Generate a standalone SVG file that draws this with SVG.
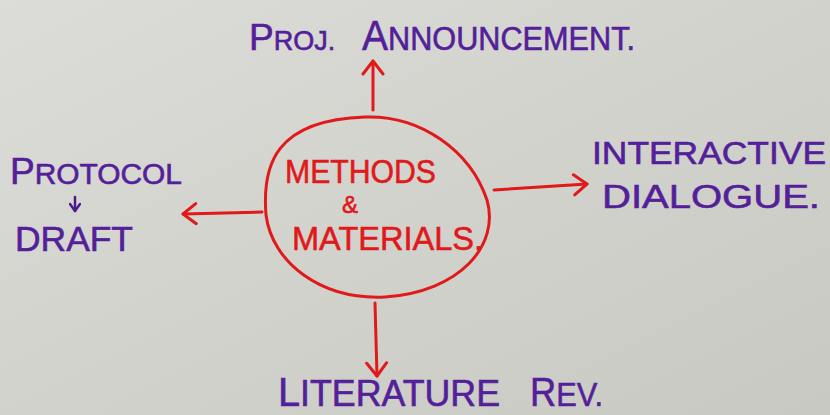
<svg xmlns="http://www.w3.org/2000/svg" width="830" height="415" viewBox="0 0 830 415">
  <defs>
    <linearGradient id="paper" x1="0" y1="0" x2="1" y2="1">
      <stop offset="0" stop-color="#dcdcd8"/>
      <stop offset="1" stop-color="#c9c9c3"/>
    </linearGradient>
    <marker id="redHead" viewBox="0 0 20 24" refX="18" refY="12" markerWidth="20" markerHeight="24" markerUnits="userSpaceOnUse" orient="auto">
      <path d="M5,2 L18,12 L5,22" fill="none" stroke="#e0191b" stroke-width="3" stroke-linecap="round" stroke-linejoin="round"/>
    </marker>
    <marker id="purpleHead" viewBox="0 0 12 12" refX="10" refY="6" markerWidth="12" markerHeight="12" markerUnits="userSpaceOnUse" orient="auto">
      <path d="M3,1 L10,6 L3,11" fill="none" stroke="#4e1b8c" stroke-width="2.5" stroke-linecap="round" stroke-linejoin="round"/>
    </marker>
    <style>
      .lbl { font-family: "Liberation Sans", Arial, sans-serif; fill: #54209a; stroke: #54209a; stroke-width: 0.6; }
      .red { font-family: "Liberation Sans", Arial, sans-serif; fill: #e0191b; stroke: #e0191b; stroke-width: 0.6; }
      .conn { fill: none; stroke: #e0191b; stroke-width: 3; stroke-linecap: round; marker-end: url(#redHead); }
    </style>
  </defs>

  <rect x="0" y="0" width="830" height="415" fill="url(#paper)"/>

  <g id="center">
    <path d="M365,117 C420,115 470,150 487,200 C500,245 460,292 385,297 C320,300 272,262 266,215 C262,165 275,120 365,117 Z" fill="none" stroke="#e0191b" stroke-width="3"/>
    <text class="red" x="285" y="183" font-size="34" textLength="151" lengthAdjust="spacingAndGlyphs">METHODS</text>
    <text class="red" x="350" y="213" font-size="24" text-anchor="middle">&amp;</text>
    <text class="red" x="292" y="250" font-size="34" textLength="191" lengthAdjust="spacingAndGlyphs">MATERIALS.</text>
  </g>

  <g id="proj-announcement">
    <text class="lbl" x="249" y="50"><tspan font-size="37">P</tspan><tspan font-size="27">ROJ.</tspan></text>
    <text class="lbl" x="362" y="50" textLength="273" lengthAdjust="spacingAndGlyphs"><tspan font-size="42">A</tspan><tspan font-size="33">NNOUNCEMENT.</tspan></text>
  </g>

  <g id="protocol-draft">
    <text class="lbl" x="10" y="184" textLength="172" lengthAdjust="spacingAndGlyphs"><tspan font-size="36">P</tspan><tspan font-size="29">ROTOCOL</tspan></text>
    <line x1="75" y1="197" x2="75" y2="211" stroke="#4e1b8c" stroke-width="2.5" stroke-linecap="round" marker-end="url(#purpleHead)"/>
    <text class="lbl" x="15" y="251" font-size="35" textLength="118" lengthAdjust="spacingAndGlyphs">DRAFT</text>
  </g>

  <g id="interactive-dialogue">
    <text class="lbl" x="592" y="164" font-size="32" textLength="234" lengthAdjust="spacingAndGlyphs">INTERACTIVE</text>
    <text class="lbl" x="602" y="208" font-size="34" textLength="218" lengthAdjust="spacingAndGlyphs">DIALOGUE.</text>
  </g>

  <g id="literature-rev">
    <text class="lbl" x="278" y="406" textLength="222" lengthAdjust="spacingAndGlyphs"><tspan font-size="40">L</tspan><tspan font-size="36">ITERATURE</tspan></text>
    <text class="lbl" x="530" y="406" textLength="73" lengthAdjust="spacingAndGlyphs"><tspan font-size="40">R</tspan><tspan font-size="34">EV.</tspan></text>
  </g>

  <g id="connectors">
    <path class="conn" d="M373,110 L373,61"/>
    <path class="conn" d="M262,212 L183,214"/>
    <path class="conn" d="M494,190 L587,184"/>
    <path class="conn" d="M375,303 L377,376"/>
  </g>
</svg>
